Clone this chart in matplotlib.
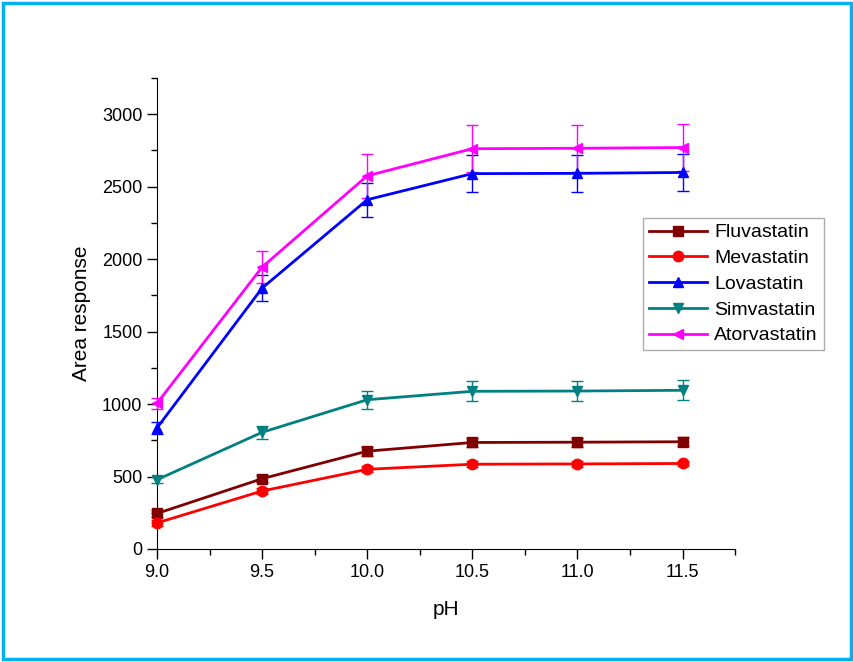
import matplotlib.pyplot as plt
from matplotlib.patches import Rectangle
from matplotlib.lines import Line2D
from matplotlib.ticker import MultipleLocator

plt.rcParams['font.family'] = ['Liberation Sans', 'DejaVu Sans']

# pH values
ph = [9.0, 9.5, 10.0, 10.5, 11.0, 11.5]

# area response per statin and their error bars
fluvastatin = [245, 485, 675, 735, 737, 740]
fluvastatin_err = [25, 25, 30, 30, 30, 30]
mevastatin = [180, 400, 550, 585, 587, 590]
mevastatin_err = [20, 20, 20, 20, 20, 20]
lovastatin = [835, 1800, 2410, 2590, 2592, 2598]
lovastatin_err = [40, 90, 118, 127, 127, 127]
simvastatin = [478, 805, 1030, 1088, 1090, 1095]
simvastatin_err = [20, 46, 62, 68, 68, 68]
atorvastatin = [1005, 1945, 2575, 2762, 2765, 2770]
atorvastatin_err = [40, 110, 150, 162, 162, 162]

names = ['Fluvastatin', 'Mevastatin', 'Lovastatin', 'Simvastatin', 'Atorvastatin']
series = [fluvastatin, mevastatin, lovastatin, simvastatin, atorvastatin]
errors = [fluvastatin_err, mevastatin_err, lovastatin_err, simvastatin_err, atorvastatin_err]
colors = ['#800000', '#FF0000', '#0000FF', '#008080', '#FF00FF']
markers = ['s', 'o', '^', 'v', '<']

fig = plt.figure(figsize=(8.54, 6.62), dpi=100)
ax = fig.add_axes([0.1838, 0.1707, 0.677, 0.7115])

handles = []
for name, vals, err, c, m in zip(names, series, errors, colors, markers):
    ax.errorbar(ph, vals, yerr=err, color=c, marker=m, markersize=7.5, lw=2,
                elinewidth=1, capsize=4, capthick=1, ecolor=c,
                clip_on=False, zorder=3)
    handles.append(Line2D([], [], color=c, marker=m, markersize=7.5, lw=2, label=name))

ax.set_xlim(9.0, 11.75)
ax.set_ylim(0, 3250)
ax.xaxis.set_minor_locator(MultipleLocator(0.25))
ax.yaxis.set_major_locator(MultipleLocator(500))
ax.yaxis.set_minor_locator(MultipleLocator(250))
ax.set_xticks([9.0, 9.5, 10.0, 10.5, 11.0, 11.5])
ax.set_xticklabels(['9.0', '9.5', '10.0', '10.5', '11.0', '11.5'])
ax.spines['top'].set_visible(False)
ax.spines['right'].set_visible(False)
ax.tick_params(which='major', length=7, width=1, labelsize=13)
ax.tick_params(which='minor', length=4, width=1)

ax.set_xlabel('pH', fontsize=15, labelpad=14)
ax.set_ylabel('Area response', fontsize=15, labelpad=8)

leg = ax.legend(handles=handles, loc='upper left', bbox_to_anchor=(0.841, 0.703),
                borderaxespad=0, fontsize=14, frameon=True, fancybox=False,
                edgecolor='#999999', handlelength=3.0, borderpad=0.3,
                labelspacing=0.42, handletextpad=0.35)
leg.get_frame().set_linewidth(1)

fig.patches.append(Rectangle((0.004, 0.004), 0.992, 0.992, transform=fig.transFigure,
                             fill=False, edgecolor='#00B0F0', lw=2.5))

fig.savefig('out.png', dpi=100)
